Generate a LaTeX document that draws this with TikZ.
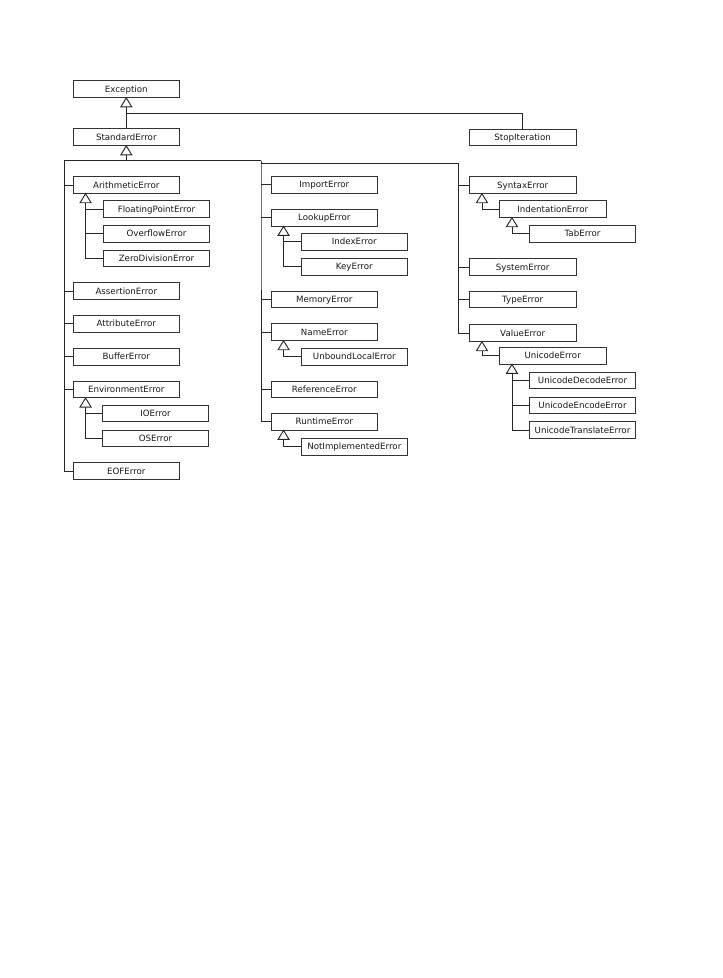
\documentclass[tikz,border=0pt]{standalone}
\usepackage{fontspec}
\setmainfont{DejaVu Sans}
\begin{document}
\begin{tikzpicture}[x=0.75pt,y=-0.75pt,
  cls/.style={draw=black!80, line width=0.6pt, minimum width=80pt, minimum height=12.5pt, inner sep=0pt,
    text height=4.75pt, text depth=0pt,
    font=\fontsize{6.5}{7}\selectfont, text=black!90, fill=white},
  ln/.style={line width=0.7pt, draw=black!85}]
\useasboundingbox (0,0) rectangle (723,978);
\newcommand\inherit[3]{%
  \coordinate (#1-b) at ([shift={(9.75pt,-6.75pt)}]#1.south west);
  \draw[ln] (#1-b) |- (#3.west);
  \foreach \c in {#2} \draw[ln] (#1-b |- \c.west) -- (\c.west);
  \draw[ln,fill=white] ([xshift=9.75pt]#1.south west) -- ++(-5.5,9) -- ++(11,0) -- cycle;
}
% top
\node[cls] (exc) at (126.3,89.2) {Exception};
\node[cls] (std) at (126.3,137.2) {StandardError};
\node[cls] (stop) at (522.7,137.5) {StopIteration};
% left column
\node[cls] (arith) at (126.3,185) {ArithmeticError};
\node[cls] (fpe) at (156.5,209) {FloatingPointError};
\node[cls] (ovf) at (156.5,233.7) {OverflowError};
\node[cls] (zde) at (156.5,258.3) {ZeroDivisionError};
\node[cls] (assert) at (126.3,291) {AssertionError};
\node[cls] (attr) at (126.3,323.7) {AttributeError};
\node[cls] (buf) at (126.3,356.7) {BufferError};
\node[cls] (env) at (126.3,389.3) {EnvironmentError};
\node[cls] (ioe) at (155.5,413.5) {IOError};
\node[cls] (ose) at (155.5,438.3) {OSError};
\node[cls] (eof) at (126.3,471) {EOFError};
% middle column
\node[cls] (imp) at (324.3,184.7) {ImportError};
\node[cls] (look) at (324.3,217.7) {LookupError};
\node[cls] (idx) at (354.3,241.7) {IndexError};
\node[cls] (key) at (354.3,266.7) {KeyError};
\node[cls] (mem) at (324.3,299.3) {MemoryError};
\node[cls] (name) at (324.3,332) {NameError};
\node[cls] (ule) at (354.3,356.7) {UnboundLocalError};
\node[cls] (ref) at (324.3,389.3) {ReferenceError};
\node[cls] (run) at (324.3,421.7) {RuntimeError};
\node[cls] (nie) at (354.3,446.7) {NotImplementedError};
% right column
\node[cls] (syn) at (522.7,185) {SyntaxError};
\node[cls] (ind) at (552.7,209) {IndentationError};
\node[cls] (tab) at (582.5,233.7) {TabError};
\node[cls] (sys) at (522.7,267) {SystemError};
\node[cls] (typ) at (522.7,299.3) {TypeError};
\node[cls] (val) at (522.7,333) {ValueError};
\node[cls] (uni) at (552.7,355.7) {UnicodeError};
\node[cls] (ude) at (582.5,380.3) {UnicodeDecodeError};
\node[cls] (uee) at (582.5,405.3) {UnicodeEncodeError};
\node[cls] (ute) at (582.5,430) {UnicodeTranslateError};
% Exception -> StandardError, StopIteration
\coordinate (ej) at (126.3,113.3);
\coordinate (eb) at ([yshift=-6.75pt]exc.south);
\draw[ln] (eb) -- (std.north);
\draw[ln] (ej) -| (stop.north);
\draw[ln,fill=white] (exc.south) -- ++(-5.5,9) -- ++(11,0) -- cycle;
% StandardError bus
\coordinate (sb) at ([yshift=-6.75pt]std.south);
\coordinate (bus1) at (64,160.7);
\coordinate (bus2) at (261,160.7);
\coordinate (bus3) at (458.5,163);
\draw[ln] (sb) -- (sb |- bus1);
\draw[ln] (bus2) -- (bus1) |- (eof.west);
\draw[ln] (bus3) -| (bus2) |- (run.west);
\draw[ln] (bus3) |- (val.west);
\foreach \n in {arith,assert,attr,buf,env} \draw[ln] (bus1 |- \n.west) -- (\n.west);
\foreach \n in {imp,look,mem,name,ref} \draw[ln] (bus2 |- \n.west) -- (\n.west);
\foreach \n in {syn,sys,typ} \draw[ln] (bus3 |- \n.west) -- (\n.west);
\draw[ln,fill=white] (std.south) -- ++(-5.5,9) -- ++(11,0) -- cycle;
% subclasses
\inherit{arith}{fpe,ovf,zde}{zde}
\inherit{env}{ioe,ose}{ose}
\inherit{look}{idx,key}{key}
\inherit{name}{ule}{ule}
\inherit{run}{nie}{nie}
\inherit{syn}{ind}{ind}
\inherit{ind}{tab}{tab}
\inherit{val}{uni}{uni}
\inherit{uni}{ude,uee,ute}{ute}
\end{tikzpicture}
\end{document}
